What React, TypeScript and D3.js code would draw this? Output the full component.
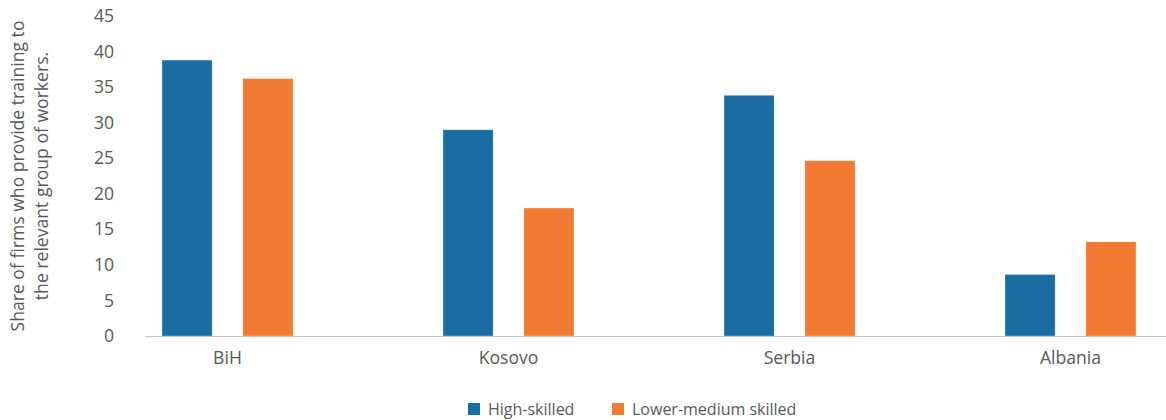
import React from "react";
import * as d3 from "d3";

const categories = ["BiH", "Kosovo", "Serbia", "Albania"];
const seriesNames = ["High-skilled", "Lower-medium skilled"];
const highSkilled = [38.8, 29.0, 33.85, 8.65];
const lowerMedium = [36.2, 18.0, 24.65, 13.25];
const yTicks = [0, 5, 10, 15, 20, 25, 30, 35, 40, 45];
const colors = ["#1a6da2", "#f27a33"];

const W = 1166;
const H = 420;
const FONT = "'Open Sans', 'Noto Sans', sans-serif";
const TEXT = "#595959";

export default function App() {
  const y = d3.scaleLinear().domain([0, 45]).range([336, 16]);
  const x = d3.scaleBand<string>().domain(categories).range([87, 1211]).padding(0);
  const inner = d3.scaleBand<string>().domain(seriesNames).range([-65.5, 65.5]).paddingInner(0.38);
  const values = [highSkilled, lowerMedium];

  return (
    <svg width={W} height={H} style={{ position: "absolute", left: 0, top: 0 }}>
      <rect width={W} height={H} fill="#fff" />
      <g fontFamily={FONT} fill={TEXT}>
        {yTicks.map((t) => (
          <text key={t} x={114} y={y(t)} dy="0.35em" textAnchor="end" fontSize={17.6}>
            {t}
          </text>
        ))}
        <text
          transform={`translate(24,176) rotate(-90)`}
          textAnchor="middle"
          fontSize={17.6}
        >
          <tspan x={0} dy={0}>Share of firms who provide training to</tspan>
          <tspan x={0} dy={24}>the relevant group of workers.</tspan>
        </text>
      </g>
      {categories.map((c, i) => {
        const cx = (x(c) ?? 0) + x.bandwidth() / 2;
        return (
          <g key={c}>
            {seriesNames.map((s, k) => (
              <rect
                key={s}
                x={cx + (inner(s) ?? 0)}
                y={y(values[k][i])}
                width={inner.bandwidth()}
                height={y(0) - y(values[k][i])}
                fill={colors[k]}
                stroke="#ffffff"
                strokeOpacity={0.4}
                strokeWidth={0.7}
              />
            ))}
            <text
              x={cx}
              y={364}
              textAnchor="middle"
              fontFamily={FONT}
              fontSize={17.6}
              fill={TEXT}
            >
              {c}
            </text>
          </g>
        );
      })}
      <line x1={145} x2={1166} y1={336.5} y2={336.5} stroke="#c8c8c8" strokeWidth={1.2} />
      <g fontFamily={FONT} fontSize={16} fill={TEXT}>
        {seriesNames.map((s, k) => {
          const lx = k === 0 ? 468 : 612;
          return (
            <g key={s}>
              <rect x={lx} y={403} width={12} height={12} fill={colors[k]} />
              <text x={lx + 20} y={415}>{s}</text>
            </g>
          );
        })}
      </g>
    </svg>
  );
}
